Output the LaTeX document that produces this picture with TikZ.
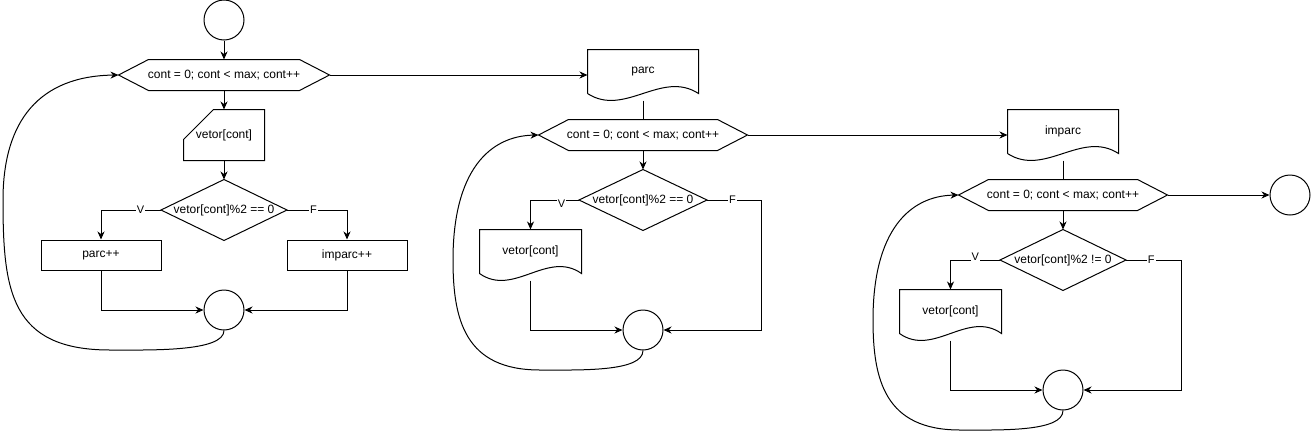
\documentclass[tikz,border=0pt]{standalone}
\usepackage{fontspec}
\setmainfont{Liberation Sans}
\usetikzlibrary{arrows.meta,calc}

% outlines drawn round plain rectangle nodes
\newcommand{\hexout}[1]{\draw (#1.west) -- ([xshift=30pt]#1.north west) -- ([xshift=-30pt]#1.north east) -- (#1.east) -- ([xshift=-30pt]#1.south east) -- ([xshift=30pt]#1.south west) -- cycle;}
\newcommand{\decout}[1]{\draw (#1.west) -- (#1.north) -- (#1.east) -- (#1.south) -- cycle;}
\newcommand{\inout}[1]{\draw ([xshift=30pt]#1.north west) -- (#1.north east) -- (#1.south east) -- (#1.south west) -- ([yshift=-30pt]#1.north west) -- cycle;}
\newcommand{\docout}[1]{\draw (#1.south west) -- (#1.north west) -- (#1.north east) -- (#1.south east) .. controls ($(#1.south east)!0.333!(#1.south west)+(0,-24)$) and ($(#1.south east)!0.667!(#1.south west)+(0,24)$) .. (#1.south west);}

\begin{document}
\begin{tikzpicture}[x=1pt,y=-1pt,line width=1pt,font=\fontsize{12}{14}\selectfont,
  arr/.style={-{Stealth[length=8pt,width=7pt,inset=2.5pt]}},
  term/.style={circle,draw,minimum size=40pt,inner sep=0pt},
  shapebox/.style={rectangle,inner sep=0pt},
  loopbox/.style={shapebox,minimum width=210pt,minimum height=30pt},
  decbox/.style={shapebox,minimum width=125pt,minimum height=60pt},
  procbox/.style={shapebox,draw,minimum width=120pt,minimum height=30pt},
  elab/.style={fill=white,inner sep=1pt,font=\fontsize{11}{13}\selectfont}]

\useasboundingbox (0,0) rectangle (1311,432);

% first loop
\node[term] (start) at (224,20) {};
\node[loopbox] (hex1) at (224,75) {cont = 0; cont < max; cont++};
\node[shapebox,minimum width=80pt,minimum height=50pt] (in1) at (224,135) {vetor[cont]};
\node[decbox] (dec1) at (224,210) {vetor[cont]\%2 == 0};
\node[procbox] (inc1) at (101,255) {parc++};
\node[procbox] (inc2) at (347,255) {imparc++};
\node[term] (join1) at (224,310) {};
\hexout{hex1}
\inout{in1}
\decout{dec1}

\draw[arr] (start) -- (hex1);
\draw[arr] (hex1) -- (in1);
\draw[arr] (in1) -- (dec1);
\draw[arr] (dec1.west) -| node[elab,pos=0.17]{V} (inc1.north);
\draw[arr] (dec1.east) -| node[elab,pos=0.22]{F} (inc2.north);
\draw[arr] (inc1.south) |- (join1.west);
\draw[arr] (inc2.south) |- (join1.east);
\draw[arr] (join1.south) .. controls (224,352) and (150,350) .. (110,350) .. controls (10,350) and (3,290) .. (3,200) .. controls (3,120) and (40,76) .. (hex1.west);

% second loop
\node[shapebox,minimum width=110pt,minimum height=43pt] (parc) at (643,71.5) {parc};
\node[loopbox,minimum width=208pt] (hex2) at (643,135) {cont = 0; cont < max; cont++};
\node[decbox,minimum width=127pt] (dec2) at (643,200) {vetor[cont]\%2 == 0};
\node[shapebox,minimum width=101pt,minimum height=43pt] (vet2) at (530.5,251.5) {vetor[cont]};
\node[term] (join2) at (643,330) {};
\docout{parc}
\hexout{hex2}
\decout{dec2}
\docout{vet2}

\draw[arr] (hex1.east) -- (hex1.east -| parc.west);
\draw ([yshift=-7pt]parc.south) -- (hex2.north);
\draw[arr] (hex2) -- (dec2);
\draw[arr] (dec2.west) -| node[elab,pos=0.18,yshift=-4pt]{V} (vet2.north);
\draw[arr] (dec2.east) -- node[elab,pos=0.47]{F} ++(54,0) |- (join2.east);
\draw[arr] ([yshift=-7pt]vet2.south) |- (join2.west);
\draw[arr] (join2.south) .. controls (643,372) and (580,370) .. (540,370) .. controls (465,370) and (453,320) .. (453,260) .. controls (453,170) and (490,136) .. (hex2.west);

% third loop
\node[shapebox,minimum width=110pt,minimum height=43pt] (imparc) at (1063,131.5) {imparc};
\node[loopbox,minimum width=208pt] (hex3) at (1063,195) {cont = 0; cont < max; cont++};
\node[decbox] (dec3) at (1063,260) {vetor[cont]\%2 != 0};
\node[shapebox,minimum width=101pt,minimum height=43pt] (vet3) at (950.5,311.5) {vetor[cont]};
\node[term] (join3) at (1063,390) {};
\node[term] (stop) at (1290,195) {};
\docout{imparc}
\hexout{hex3}
\decout{dec3}
\docout{vet3}

\draw[arr] (hex2.east) -- (hex2.east -| imparc.west);
\draw ([yshift=-7pt]imparc.south) -- (hex3.north);
\draw[arr] (hex3) -- (dec3);
\draw[arr] (hex3) -- (stop);
\draw[arr] (dec3.west) -| node[elab,pos=0.25,yshift=3pt]{V} (vet3.north);
\draw[arr] (dec3.east) -- node[elab,pos=0.46]{F} ++(55,0) |- (join3.east);
\draw[arr] ([yshift=-7pt]vet3.south) |- (join3.west);
\draw[arr] (join3.south) .. controls (1063,432) and (1000,430) .. (960,430) .. controls (885,430) and (873,380) .. (873,320) .. controls (873,230) and (910,196) .. (hex3.west);

\end{tikzpicture}
\end{document}
